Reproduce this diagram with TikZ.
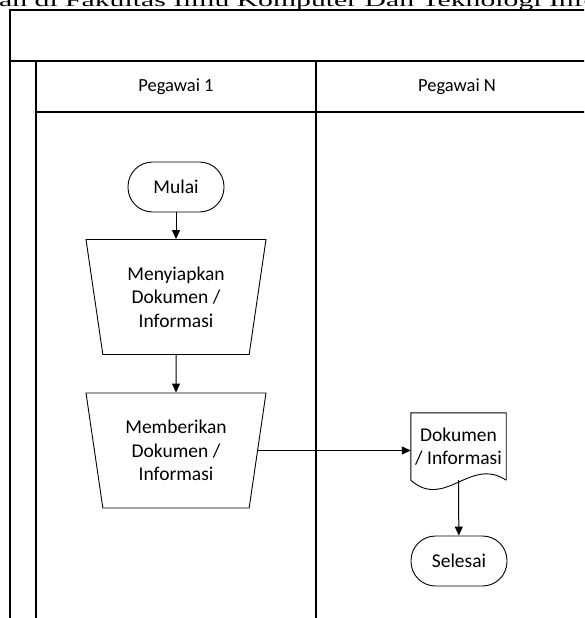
\documentclass[tikz,border=0pt]{standalone}
\usepackage{fontspec}
\setmainfont{Carlito}
\newfontfamily\serifx{Liberation Serif}
\usetikzlibrary{arrows.meta,shapes.geometric}
\begin{document}
\begin{tikzpicture}[x=1pt,y=-1pt,
  lbl/.style={font=\fontsize{19.5}{23.5}\selectfont, align=center},
  hdr/.style={font=\fontsize{18.5}{22}\selectfont},
  term/.style={draw, rounded corners=24.5pt, minimum width=96pt, minimum height=50pt, lbl, line width=0.9pt},
  manop/.style={draw, trapezium, shape border rotate=180, trapezium stretches body,
    trapezium left angle=75.4, trapezium right angle=75.4,
    minimum width=180pt, minimum height=115pt, inner sep=2pt, lbl, line width=0.9pt},
  frame/.style={line width=1.1pt},
  arr/.style={-{Triangle[length=9pt,width=8pt]}, line width=1pt}]
\useasboundingbox (0,0) rectangle (584,618);
\clip (0,0) rectangle (584,618);
% clipped title line
\node[anchor=base west, inner sep=0pt] (title) at (-1,7)
  {\scalebox{1.65}[1]{\serifx\fontsize{18}{18}\selectfont an di Fakultas Ilmu Komputer Dan Teknologi Informasi}};
% frame and lanes
\draw[frame] (10,620) -- (10,10) -- (586,10);
\draw[frame] (10,61) -- (586,61);
\draw[frame] (36,61) -- (36,620);
\draw[frame] (36,112) -- (586,112);
\draw[frame] (316,61) -- (316,620);
\node[hdr] (h1) at (176,87) {Pegawai 1};
\node[hdr] (h2) at (457,87) {Pegawai N};
% flow
\node[term] (mulai) at (176,187) {Mulai};
\node[manop] (t1) at (176,297) {Menyiapkan\\Dokumen /\\Informasi};
\node[manop] (t2) at (176,450.5) {Memberikan\\Dokumen /\\Informasi};
\node[lbl, minimum width=95pt, minimum height=67pt, inner sep=0pt] (doc) at (458.5,446.5) {Dokumen\\/ Informasi};
\draw[line width=0.9pt] (doc.south east) -- (doc.north east) -- (doc.north west) -- (doc.south west)
  .. controls +(34,30) and +(-36,-24) .. (doc.south east);
\node[term] (selesai) at (459,561) {Selesai};
\draw[arr] (mulai) -- (t1);
\draw[arr] (t1) -- (t2);
\draw[arr] (t2.east) -- (t2.east -| doc.west);
\draw[arr] (doc.south) -- (selesai);
\end{tikzpicture}
\end{document}
